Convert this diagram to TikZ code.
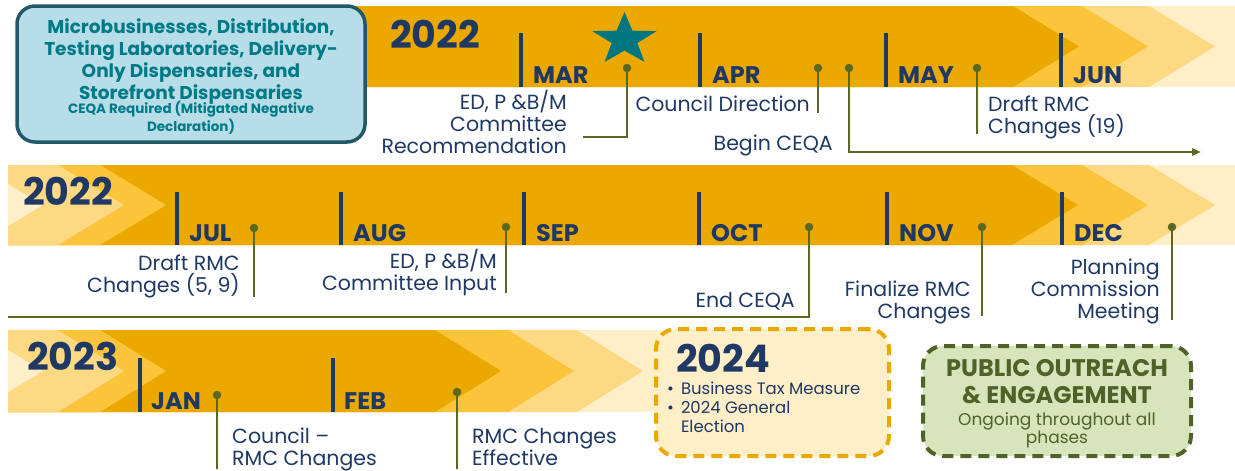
\documentclass[tikz,border=0pt]{standalone}
\usepackage{fontspec}
\setmainfont{Poppins}
\usepackage{tikz}
\usetikzlibrary{calc,positioning,shapes.geometric,arrows.meta}
\definecolor{gold}{RGB}{235,169,0}
\definecolor{goldA}{RGB}{252,196,58}
\definecolor{goldB}{RGB}{253,217,132}
\definecolor{goldC}{RGB}{254,239,200}
\definecolor{navy}{RGB}{31,56,100}
\definecolor{olive}{RGB}{90,104,36}
\definecolor{starteal}{RGB}{0,118,128}
\definecolor{tealtxt}{RGB}{0,122,135}
\definecolor{boxblue}{RGB}{183,221,232}
\definecolor{boxedge}{RGB}{35,88,104}
\definecolor{greenfill}{RGB}{216,228,188}
\definecolor{greenedge}{RGB}{79,98,40}
% one chevron: colour, left x, right x, top y, bottom y
\newcommand{\chev}[5]{\fill[#1] (#2,#4) -- (#3,#4) -- ($(#3,#4)!.5!(#3,#5)+(66,0)$) -- (#3,#5) -- (#2,#5) -- cycle;}

\begin{document}
\begin{tikzpicture}[x=1pt,y=-1pt,
    every node/.style={inner sep=0pt,text=navy},
    monthbar/.style={draw=navy,line width=3.6pt},
    monthlab/.style={anchor=base west,font=\bfseries\fontsize{24}{26}\selectfont},
    yearlab/.style={anchor=base west,font=\bfseries\fontsize{38}{40}\selectfont},
    evdot/.style={circle,fill=olive,minimum size=8.5pt},
    stem/.style={draw=olive,line width=2.6pt},
    evtext/.style={anchor=base east,align=right,font=\fontsize{20.5}{21.8}\selectfont},
    evtextl/.style={evtext,anchor=base west,align=left},
    dashbox/.style={rounded corners=20pt,line width=4pt,dash pattern=on 11pt off 7pt}]

    \useasboundingbox (0,0) rectangle (1235,471);

    % row 1
    \fill[goldC] (343,6) rectangle (1235,87);
    \chev{goldB}{343}{1149}{6}{87}
    \chev{goldA}{343}{1082}{6}{87}
    \chev{gold}{343}{1013}{6}{87}

    % row 2
    \fill[goldC] (1013,165) rectangle (1235,245);
    \chev{goldB}{8}{1149}{165}{245}
    \chev{goldA}{8}{1082}{165}{245}
    \chev{gold}{8}{1012}{165}{245}
    \chev{goldA}{8}{100}{165}{245}
    \chev{goldB}{8}{58}{165}{245}
    \fill[goldC] (8,184) -- (43,205) -- (8,226) -- cycle;

    % row 3
    \fill[goldC] (8,330) rectangle (662,412);
    \chev{goldB}{8}{577}{330}{412}
    \chev{goldA}{8}{508}{330}{412}
    \chev{gold}{8}{435}{330}{412}
    \chev{goldA}{8}{100}{330}{412}
    \chev{goldB}{8}{58}{330}{412}
    \fill[goldC] (8,350) -- (43,371) -- (8,392) -- cycle;

    % years and months
    \node[yearlab] (y1) at (390,48) {2022};
    \node[yearlab] (y2) at (23,205) {2022};
    \node[yearlab] (y3) at (27,370) {2023};
    \foreach \x/\m in {521/MAR,700/APR,886/MAY,1061/JUN}{
        \draw[monthbar] (\x,33) -- (\x,87);
        \node[monthlab] (m\m) at (\x+12,83) {\m};
    }
    \foreach \x/\m in {177/JUL,341/AUG,524/SEP,699/OCT,887/NOV,1062/DEC}{
        \draw[monthbar] (\x,192) -- (\x,245);
        \node[monthlab] (m\m) at (\x+12,241) {\m};
    }
    \foreach \x/\m in {140/JAN,333/FEB}{
        \draw[monthbar] (\x,358) -- (\x,412);
        \node[monthlab] (m\m) at (\x+11,409) {\m};
    }

    \node[star,star points=5,star point ratio=2.5,fill=starteal,minimum size=55pt,xscale=1.23] (star) at (624.5,39.6) {};

    % scope box
    \node[draw=boxedge,fill=boxblue,line width=3.5pt,rounded corners=18pt,minimum width=348pt,minimum height=136pt] (scope) at (191,74) {};
    \node[align=center,text=tealtxt,font=\bfseries\fontsize{18.5}{22}\selectfont,anchor=base] (scopeT) at (191,99)
        {Microbusinesses, Distribution,\\Testing Laboratories, Delivery-\\Only Dispensaries, and\\Storefront Dispensaries};
    \node[align=center,text=tealtxt,font=\bfseries\fontsize{13.5}{16}\selectfont,anchor=base] (scopeN) at (191,131)
        {CEQA Required (Mitigated Negative\\Declaration)};

    % row 1 events
    \node[evdot] (p1) at (627,68) {};
    \node[evdot] (p2) at (818,68) {};
    \node[evdot] (p3) at (849,68) {};
    \node[evdot] (p4) at (977,68) {};
    \coordinate (p1a) at (627,137);  \coordinate (p1b) at (583,137);
    \coordinate (p2a) at (818,113);
    \coordinate (p3a) at (849,152);  \coordinate (p3b) at (1201,152);
    \coordinate (p4a) at (977,134);
    \draw[stem] (p1) -- (p1a) -- (p1b);
    \draw[stem] (p2) -- (p2a);
    \draw[stem,-{Triangle[length=9pt,width=7pt]}] (p3) -- (p3a) -- (p3b);
    \draw[stem] (p4) -- (p4a);
    \node[evtext] (t1) at (567,153) {ED, P \&B/M\\Committee\\Recommendation};
    \node[evtext] (t2) at (810,111) {Council Direction};
    \node[evtext] (t3) at (833,150) {Begin CEQA};
    \node[evtextl] (t4) at (988,133) {Draft RMC\\Changes (19)};

    % row 2 events
    \node[evdot] (q1) at (254,228) {};
    \node[evdot] (q2) at (506,227) {};
    \node[evdot] (q3) at (809,227) {};
    \node[evdot] (q4) at (982,227) {};
    \node[evdot] (q5) at (1172,227) {};
    \coordinate (q1a) at (254,297);
    \coordinate (q2a) at (506,293);
    \coordinate (q3a) at (809,317);  \coordinate (q3b) at (8,317);
    \coordinate (q4a) at (982,316);
    \coordinate (q5a) at (1172,320);
    \draw[stem] (q1) -- (q1a);
    \draw[stem] (q2) -- (q2a);
    \draw[stem] (q3) -- (q3a) -- (q3b);
    \draw[stem] (q4) -- (q4a);
    \draw[stem] (q5) -- (q5a);
    \node[evtext] (u1) at (240,292) {Draft RMC\\Changes (5, 9)};
    \node[evtext] (u2) at (497,290) {ED, P \&B/M\\Committee Input};
    \node[evtext] (u3) at (795,307) {End CEQA};
    \node[evtext] (u4) at (971,318) {Finalize RMC\\Changes};
    \node[evtext] (u5) at (1160,318) {Planning\\Commission\\Meeting};

    % row 3 events
    \node[evdot] (r1) at (217,395) {};
    \node[evdot] (r2) at (457,392) {};
    \coordinate (r1a) at (217,469);
    \coordinate (r2a) at (457,469);
    \draw[stem] (r1) -- (r1a);
    \draw[stem] (r2) -- (r2a);
    \node[evtextl] (v1) at (232,465) {Council --\\RMC Changes};
    \node[evtextl] (v2) at (472,465) {RMC Changes\\Effective};

    % 2024 box
    \node[dashbox,draw=gold,fill=goldC,minimum width=233pt,minimum height=127pt] (box24) at (772.5,392.5) {};
    \node[yearlab] (y4) at (676,372) {2024};
    \node[anchor=base west,font=\fontsize{16.5}{19}\selectfont] (list24) at (667,394)
        {\begin{tabular}[t]{@{}l@{\hspace{7pt}}l@{}}\textbullet & Business Tax Measure\\ \textbullet & 2024 General\\ & Election\end{tabular}};

    % outreach box
    \node[dashbox,draw=greenedge,fill=greenfill,minimum width=268pt,minimum height=110pt] (boxPub) at (1057,401) {};
    \node[align=center,anchor=base,text=greenedge,font=\bfseries\fontsize{24}{27}\selectfont] (pubT) at (1057,403)
        {PUBLIC OUTREACH\\\& ENGAGEMENT};
    \node[align=center,anchor=base,text=greenedge,font=\fontsize{17}{18}\selectfont] (pubN) at (1057,443)
        {Ongoing throughout all\\phases};

\end{tikzpicture}
\end{document}
